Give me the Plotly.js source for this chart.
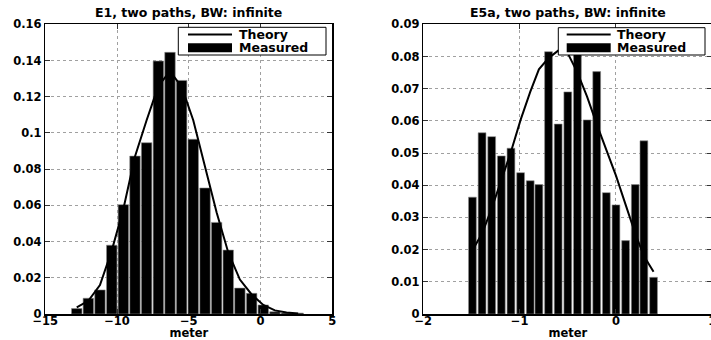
<!DOCTYPE html>
<html>
<head>
<meta charset="utf-8">
<script src="https://cdn.plot.ly/plotly-3.0.1.min.js"></script>
<style>
  html, body { margin: 0; padding: 0; background: #ffffff; overflow: hidden; }
  #chart { width: 716px; height: 340px; }
</style>
</head>
<body>
<div id="chart"></div>
<script>
// ---------- data ----------
// Left panel: E1, two paths, BW: infinite
const e1BinCenters = [-12.81, -12.00, -11.19, -10.37, -9.56, -8.75, -7.94, -7.12, -6.31, -5.50,
                      -4.69, -3.87, -3.06, -2.25, -1.44, -0.62, 0.19, 1.00, 1.81, 2.62];
const e1Measured   = [0.0030, 0.0087, 0.0133, 0.0380, 0.0604, 0.0872, 0.0946, 0.1397, 0.1445, 0.1290,
                      0.0965, 0.0696, 0.0506, 0.0353, 0.0143, 0.0114, 0.0050, 0.0012, 0.0006, 0.0005];
const e1Theory     = [0.0037, 0.0073, 0.0160, 0.0350, 0.0580, 0.0870, 0.1070, 0.1260, 0.1340, 0.1255,
                      0.1070, 0.0810, 0.0560, 0.0340, 0.0190, 0.0108, 0.0050, 0.0020, 0.0008, 0.0003];

// Right panel: E5a, two paths, BW: infinite
const e5aBinCenters = [-1.49, -1.39, -1.29, -1.19, -1.09, -0.99, -0.89, -0.80, -0.70, -0.60,
                       -0.50, -0.40, -0.30, -0.20, -0.10, 0.00, 0.10, 0.20, 0.29, 0.39];
const e5aMeasured   = [0.0363, 0.0563, 0.0551, 0.0491, 0.0515, 0.0439, 0.0414, 0.0402, 0.0815, 0.0590,
                       0.0690, 0.0830, 0.0603, 0.0753, 0.0377, 0.0339, 0.0228, 0.0402, 0.0538, 0.0114];
const e5aTheory     = [0.0198, 0.0250, 0.0328, 0.0414, 0.0504, 0.0603, 0.0690, 0.0760, 0.0795, 0.0818,
                       0.0810, 0.0750, 0.0675, 0.0590, 0.0510, 0.0430, 0.0340, 0.0250, 0.0180, 0.0131];

const panelTitles = ["E1, two paths, BW: infinite", "E5a, two paths, BW: infinite"];
const xAxisLabel = "meter";
const legendLabels = ["Theory", "Measured"];

// ---------- layout helpers ----------
const W = 716, H = 340;
const px = v => v / W;
const py = v => (H - v) / H;
const FONT = "DejaVu Sans, Liberation Sans, Arial, sans-serif";
const boldFont = (size) => ({ family: FONT, size: size, color: "#000", weight: 700 });

function axisStyle(extra) {
  return Object.assign({
    showline: true, linecolor: "#000", linewidth: 1.5, mirror: "ticks",
    ticks: "inside", ticklen: 5, tickwidth: 1, tickcolor: "#333",
    showgrid: true, gridcolor: "#a0a0a0", griddash: "dot", gridwidth: 1,
    zeroline: false, tickfont: boldFont(11.5), tickprefix: "<b>", ticksuffix: "</b>",
    fixedrange: true
  }, extra);
}

const barStyle = { color: "#000", line: { color: "#8c8c8c", width: 0.6 } };
const lineStyle = { color: "#000", width: 2 };

const traces = [
  { type: "bar", x: e1BinCenters, y: e1Measured, name: legendLabels[1], marker: barStyle,
    xaxis: "x", yaxis: "y", showlegend: false, hoverinfo: "skip" },
  { type: "scatter", mode: "lines", x: e1BinCenters, y: e1Theory, name: legendLabels[0], line: lineStyle,
    xaxis: "x", yaxis: "y", showlegend: false, hoverinfo: "skip" },
  { type: "bar", x: e5aBinCenters, y: e5aMeasured, name: legendLabels[1], marker: barStyle,
    xaxis: "x2", yaxis: "y2", showlegend: false, hoverinfo: "skip" },
  { type: "scatter", mode: "lines", x: e5aBinCenters, y: e5aTheory, name: legendLabels[0], line: lineStyle,
    xaxis: "x2", yaxis: "y2", showlegend: false, hoverinfo: "skip" }
];

const yDom = [py(314), py(24.3)];
const leftDom = [px(45.3), px(332.3)];
const rightDom = [px(423.3), px(712.3)];

const xTitle = { text: "<b>" + xAxisLabel + "</b>", font: boldFont(11.5), standoff: 2 };

const layout = {
  width: W, height: H,
  margin: { l: 0, r: 0, t: 0, b: 0 },
  paper_bgcolor: "#fff", plot_bgcolor: "#fff",
  bargap: 0.1,
  showlegend: false,
  xaxis: axisStyle({ domain: leftDom, range: [-15, 5], tick0: 0, dtick: 5, anchor: "y",
                     title: xTitle, ticklabelstandoff: -4 }),
  yaxis: axisStyle({ domain: yDom, range: [0, 0.16], tick0: 0, dtick: 0.02, anchor: "x" }),
  xaxis2: axisStyle({ domain: rightDom, range: [-2, 1], tick0: 0, dtick: 1, anchor: "y2",
                      title: xTitle, ticklabelstandoff: -4, ticklabeloverflow: "allow" }),
  yaxis2: axisStyle({ domain: yDom, range: [0, 0.09], tick0: 0, dtick: 0.01, anchor: "x2" }),
  annotations: [],
  shapes: []
};

// panel titles
[leftDom, rightDom].forEach((dom, i) => {
  layout.annotations.push({
    xref: "paper", yref: "paper", x: (dom[0] + dom[1]) / 2, y: py(13),
    xanchor: "center", yanchor: "middle", showarrow: false,
    text: "<b>" + panelTitles[i] + "</b>", font: boldFont(12.5)
  });
});

// legends (white box with line sample and filled bar sample)
const legendBoxes = [
  { x0: 178.3, x1: 326, y0: 27.3, y1: 55, s0: 188, s1: 232, tx: 236.7 },
  { x0: 558.3, x1: 705, y0: 27.7, y1: 55, s0: 566.7, s1: 610.7, tx: 615 }
];
legendBoxes.forEach(b => {
  layout.shapes.push({ type: "rect", xref: "paper", yref: "paper", layer: "above",
    x0: px(b.x0), x1: px(b.x1), y0: py(b.y1), y1: py(b.y0),
    fillcolor: "#fff", line: { color: "#000", width: 1 } });
  layout.shapes.push({ type: "line", xref: "paper", yref: "paper", layer: "above",
    x0: px(b.s0), x1: px(b.s1), y0: py(34.5), y1: py(34.5),
    line: { color: "#000", width: 2 } });
  layout.shapes.push({ type: "rect", xref: "paper", yref: "paper", layer: "above",
    x0: px(b.s0), x1: px(b.s1), y0: py(52.3), y1: py(43.3),
    fillcolor: "#000", line: { color: "#000", width: 0 } });
  [[legendLabels[0], 34.5], [legendLabels[1], 47.8]].forEach(([t, yy]) => {
    layout.annotations.push({ xref: "paper", yref: "paper", x: px(b.tx), y: py(yy),
      xanchor: "left", yanchor: "middle", showarrow: false, text: "<b>" + t + "</b>",
      font: boldFont(12.5) });
  });
});

Plotly.newPlot("chart", traces, layout, { displayModeBar: false, staticPlot: true });
</script>
</body>
</html>
